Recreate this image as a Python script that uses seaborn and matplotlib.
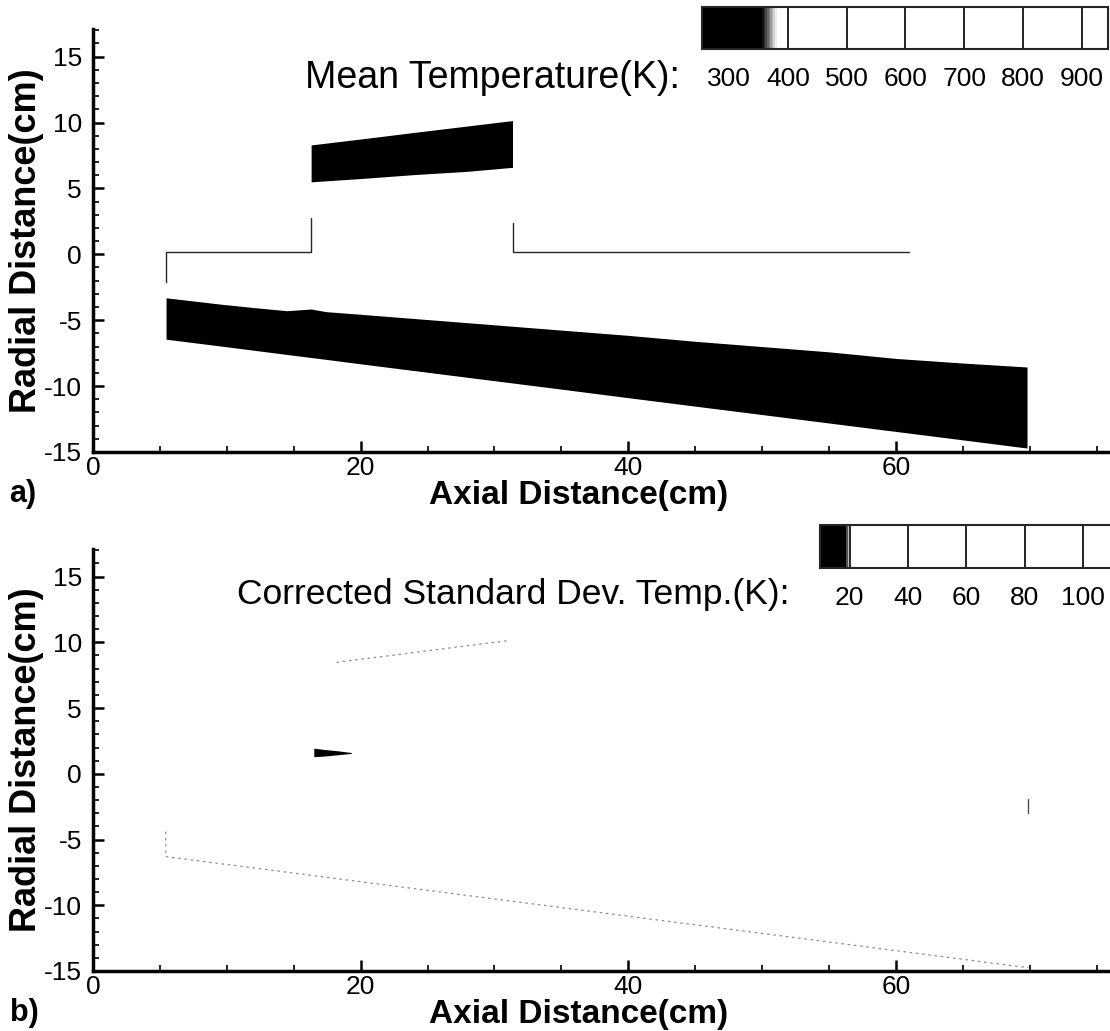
import numpy as np
import matplotlib
matplotlib.use('Agg')
import matplotlib.pyplot as plt
import seaborn as sns
from matplotlib.colors import LinearSegmentedColormap, Normalize
from matplotlib.cm import ScalarMappable
from matplotlib.ticker import MultipleLocator

# ---- panel a) mean temperature: cold (300-400 K) regions, edges ----
band_x = [5.46, 9.7, 12.1, 14.5, 16.3, 17.4, 20.0, 25.0, 30.0, 35.0, 40.0, 45.0, 50.0, 55.0, 60.0, 65.0, 69.8]
band_top = [-3.3, -3.8, -4.05, -4.28, -4.15, -4.35, -4.55, -4.95, -5.35, -5.75, -6.15, -6.6, -7.0, -7.4, -7.9, -8.25, -8.55]
band_bot = [-6.44, -6.98, -7.29, -7.6, -7.83, -7.97, -8.31, -8.95, -9.59, -10.23, -10.88, -11.52, -12.16, -12.80, -13.44, -14.08, -14.7]

jet_x = [16.3, 20.0, 24.0, 28.0, 31.35]
jet_top = [8.3, 8.75, 9.25, 9.74, 10.15]
jet_bot = [5.5, 5.75, 6.05, 6.3, 6.6]

wall1_x = [5.44, 5.44, 16.3, 16.3]
wall1_y = [-2.07, 0.21, 0.21, 2.75]
wall2_x = [31.35, 31.35, 61.0]
wall2_y = [2.4, 0.21, 0.21]

# ---- panel b) corrected standard deviation ----
spot_x = [16.5, 17.3, 18.3, 19.3]
spot_top = [1.95, 1.85, 1.75, 1.62]
spot_bot = [1.3, 1.35, 1.45, 1.55]

edge_up_x = [18.2, 31.0]
edge_up_y = [8.48, 10.13]
edge_low_x = [5.44, 5.44, 69.9]
edge_low_y = [-4.4, -6.3, -14.75]
tick_x = [69.9, 69.9]
tick_y = [-1.9, -3.0]

# legends
mean_levels = [300, 400, 500, 600, 700, 800, 900]
std_levels = [20, 40, 60, 80, 100]

sns.set_theme(style='ticks')
plt.rcParams['font.family'] = ['Liberation Sans', 'DejaVu Sans']
plt.rcParams['axes.unicode_minus'] = False
for k in ['text.color', 'axes.labelcolor', 'xtick.color', 'ytick.color']:
    plt.rcParams[k] = 'black'

fig = plt.figure(figsize=(11.1, 10.31), dpi=100)
ax1 = fig.add_axes([0.08378, 0.5616, 0.9162, 0.4103])
ax2 = fig.add_axes([0.08378, 0.0582, 0.9162, 0.4093])


def style_axes(ax, letter):
    ax.set_xlim(0, 76)
    ax.set_ylim(-15, 17.1)
    for s in ['top', 'right']:
        ax.spines[s].set_visible(False)
    for s in ['left', 'bottom']:
        ax.spines[s].set_linewidth(2.5)
        ax.spines[s].set_color('black')
    ax.xaxis.set_major_locator(MultipleLocator(20))
    ax.xaxis.set_minor_locator(MultipleLocator(5))
    ax.yaxis.set_major_locator(MultipleLocator(5))
    ax.yaxis.set_minor_locator(MultipleLocator(1))
    ax.tick_params(which='both', direction='in', color='black', labelsize=19)
    ax.tick_params(which='major', length=8, width=1.8)
    ax.tick_params(which='minor', length=4, width=1.2)
    ax.tick_params(axis='y', pad=8)
    ax.tick_params(axis='x', pad=3)
    ax.set_xlabel('Axial Distance(cm)', fontsize=24, fontweight='bold')
    ax.xaxis.label.set_va('center')
    ax.xaxis.set_label_coords(0.477, -0.102)
    ax.set_ylabel('Radial Distance(cm)', fontsize=26, fontweight='bold')
    ax.yaxis.label.set_va('center')
    ax.yaxis.set_label_coords(-0.065, 0.5)
    ax.grid(False)
    ax.text(-0.082, -0.1, letter, transform=ax.transAxes, fontsize=22,
            fontweight='bold', ha='left', va='center')


def legend_bar(rect, vmin, vmax, black_end, gray_end, levels, title, title_x, title_y, title_size):
    cax = fig.add_axes(rect)
    f1 = (black_end - vmin) / (vmax - vmin)
    f2 = (gray_end - vmin) / (vmax - vmin)
    cmap = LinearSegmentedColormap.from_list(
        'bw', [(0, 'black'), (f1, 'black'), ((f1 + f2) / 2, '0.5'), (f2, 'white'), (1, 'white')])
    sm = ScalarMappable(norm=Normalize(vmin, vmax), cmap=cmap)
    cb = fig.colorbar(sm, cax=cax, orientation='horizontal', ticks=levels)
    cb.outline.set_linewidth(1.5)
    cb.ax.set_xticklabels([str(v) for v in levels])
    cax.tick_params(length=0, labelsize=19, pad=13)
    cax.vlines(levels, 0, 1, transform=cax.get_xaxis_transform(), colors='black', lw=1.2)
    fig.text(title_x, title_y, title, fontsize=title_size, ha='right', va='center')


# panel a
style_axes(ax1, 'a)')
ax1.fill_between(band_x, band_bot, band_top, color='black', lw=0)
ax1.fill_between(jet_x, jet_bot, jet_top, color='black', lw=0)
sns.lineplot(x=wall1_x, y=wall1_y, sort=False, estimator=None, color='0.15', lw=1.0, ax=ax1)
sns.lineplot(x=wall2_x, y=wall2_y, sort=False, estimator=None, color='0.15', lw=1.0, ax=ax1)
legend_bar([0.6324, 0.9525, 0.3658, 0.0407], 253.5, 945, 355, 380, mean_levels,
           'Mean Temperature(K):', 0.6126, 0.9243, 27)

# panel b
style_axes(ax2, 'b)')
ax2.fill_between(spot_x, spot_bot, spot_top, color='black', lw=0)
sns.lineplot(x=edge_up_x, y=edge_up_y, sort=False, estimator=None, color='0.55',
             lw=0.9, linestyle=(0, (2, 3)), ax=ax2)
sns.lineplot(x=edge_low_x, y=edge_low_y, sort=False, estimator=None, color='0.55',
             lw=0.9, linestyle=(0, (2, 3)), ax=ax2)
sns.lineplot(x=tick_x, y=tick_y, sort=False, estimator=None, color='0.3', lw=1.0, ax=ax2)
legend_bar([0.7387, 0.4491, 0.2658, 0.0417], 9.8, 111.0, 18.6, 19.6, std_levels,
           'Corrected Standard Dev. Temp.(K):', 0.7117, 0.4229, 25.5)

fig.savefig('out.png', dpi=100)
